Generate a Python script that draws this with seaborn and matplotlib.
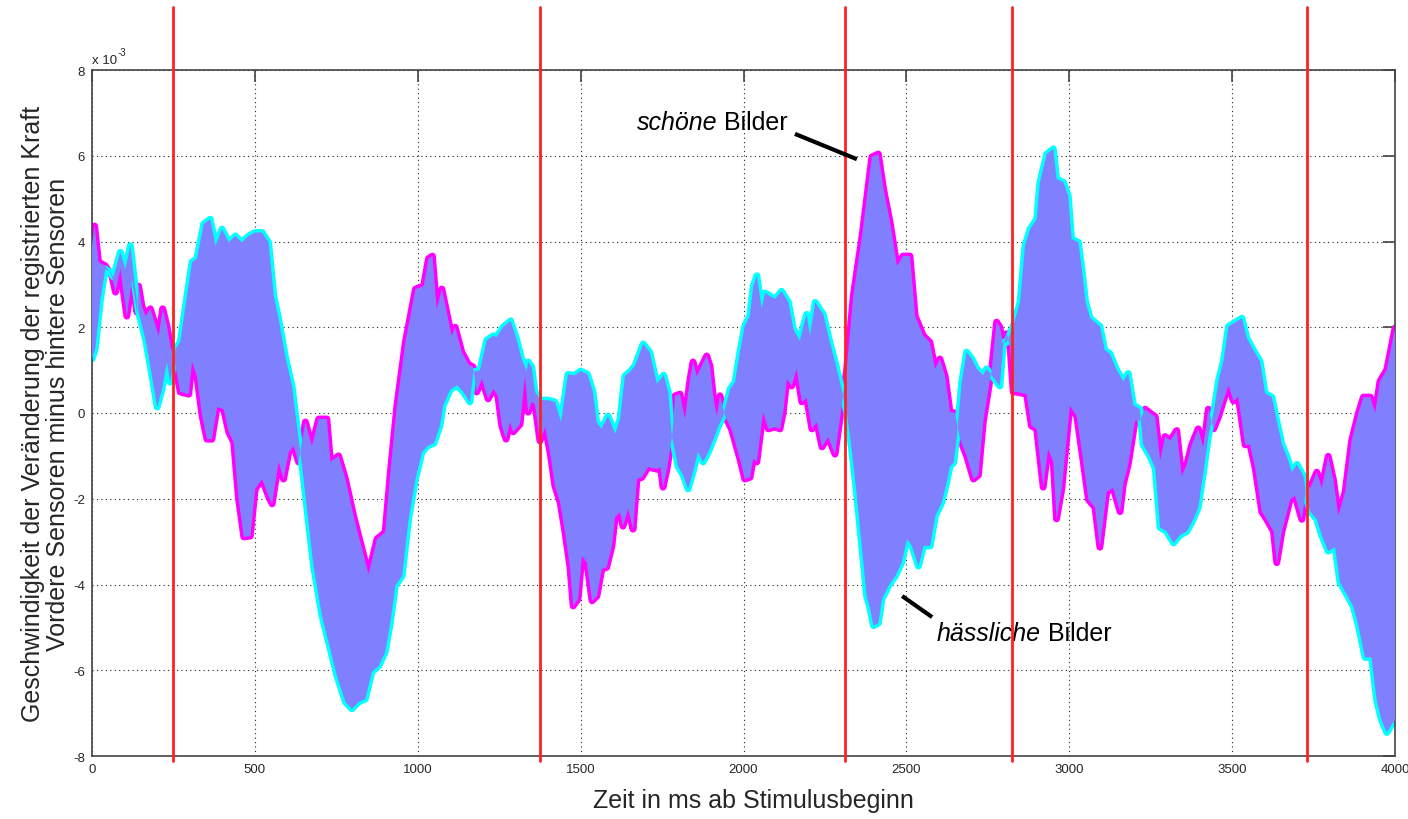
import matplotlib
matplotlib.use("Agg")
import matplotlib.pyplot as plt
import numpy as np
import seaborn as sns

sns.set_theme(style="white")
plt.rcParams["font.family"] = ["Liberation Sans", "DejaVu Sans"]
plt.rcParams["axes.unicode_minus"] = False

# Zeit (ms) und Wert (x 10^-3) für "schöne Bilder" (magenta)
zeit_schoen = [0, 8, 20, 41, 61, 72, 87, 107, 123, 138, 143, 153, 164, 179, 205, 217, 230, 246, 256, 271,
               297, 307, 322, 338, 353, 368, 384, 404, 420, 435, 450, 466, 486, 501, 522, 542, 553, 573, 588, 604,
               619, 634, 655, 675, 696, 721, 732, 757, 778, 803, 829, 849, 875, 900, 916, 936, 962, 993, 1018, 1033,
               1045, 1058, 1074, 1089, 1104, 1115, 1135, 1155, 1170, 1181, 1197, 1216, 1232, 1246, 1258, 1271, 1283, 1293, 1314, 1329,
               1339, 1350, 1360, 1375, 1391, 1406, 1421, 1437, 1452, 1467, 1477, 1492, 1504, 1519, 1535, 1550, 1565, 1580, 1596, 1606,
               1621, 1630, 1646, 1661, 1673, 1688, 1707, 1734, 1745, 1753, 1765, 1781, 1790, 1805, 1820, 1836, 1845, 1857, 1872, 1887,
               1897, 1907, 1918, 1928, 1943, 1963, 1989, 2004, 2020, 2030, 2041, 2060, 2076, 2097, 2112, 2122, 2133, 2148, 2163, 2179,
               2194, 2210, 2225, 2241, 2260, 2281, 2296, 2317, 2337, 2364, 2379, 2394, 2414, 2430, 2450, 2471, 2490, 2511, 2527, 2552,
               2572, 2588, 2603, 2619, 2634, 2649, 2665, 2685, 2706, 2721, 2736, 2752, 2762, 2777, 2787, 2798, 2808, 2818, 2828, 2838,
               2869, 2884, 2900, 2920, 2935, 2951, 2961, 2977, 3002, 3023, 3043, 3059, 3079, 3094, 3115, 3135, 3156, 3166, 3181, 3202,
               3217, 3233, 3248, 3264, 3279, 3294, 3310, 3330, 3345, 3361, 3376, 3396, 3412, 3427, 3443, 3458, 3473, 3489, 3504, 3519,
               3540, 3555, 3571, 3591, 3606, 3627, 3637, 3653, 3678, 3693, 3714, 3729, 3740, 3760, 3775, 3795, 3811, 3826, 3847, 3867,
               3888, 3903, 3924, 3939, 3954, 3975, 4000]
wert_schoen = [3.9, 4.36, 3.52, 3.43, 3.2, 2.82, 3.36, 2.26, 3.12, 2.35, 2.96, 2.5, 2.26, 2.43, 1.8, 2.43, 2.03, 1.33, 1.1, 0.49,
               0.44, 1.19, 0.86, -0.07, -0.61, -0.61, 0.14, 0.09, -0.45, -0.68, -2.0, -2.89, -2.87, -1.77, -1.54, -1.94, -2.12, -1.14, -1.54, -0.91,
               -0.77, -1.14, -0.21, -0.77, -0.14, -0.14, -1.14, -1.0, -1.54, -2.4, -3.17, -3.76, -2.94, -2.78, -1.38, 0.17, 1.65, 2.89, 2.96, 3.6,
               3.66, 2.43, 2.89, 2.35, 1.8, 2.0, 1.42, 1.14, 1.07, 0.49, 0.79, 0.33, 0.56, 0.4, -0.3, -0.61, -0.21, -0.44, -0.26, 0.86,
               0.02, 0.26, 0.2, -0.65, -0.33, -0.91, -1.7, -2.08, -2.78, -3.57, -4.5, -4.34, -3.34, -3.48, -4.38, -4.27, -3.64, -3.6, -3.1, -2.43,
               -2.31, -2.64, -2.24, -2.71, -1.54, -1.5, -1.26, -1.31, -1.26, -1.73, -1.31, -0.54, 0.4, 0.44, -0.14, 0.79, 1.19, 0.86, 1.1, 1.33,
               1.1, 0.4, -0.07, 0.4, -0.07, -0.37, -1.07, -1.54, -1.5, -1.07, -1.14, 0.02, -0.37, -0.33, -0.37, 0.02, 0.79, 0.63, 1.03, 0.26,
               0.35, -0.37, -0.21, -0.79, -0.56, -0.96, -0.14, 1.03, 2.73, 4.13, 5.06, 5.97, 6.04, 5.22, 4.45, 3.43, 3.66, 3.66, 2.26, 1.8,
               1.65, 1.03, 1.26, 0.86, 0.02, 0.0, -0.61, -1.0, -1.54, -1.45, -0.21, 0.56, 1.03, 2.12, 2.0, 1.56, 1.85, 1.56, 0.49, 0.49,
               0.44, -0.3, -0.37, -1.73, -0.84, -1.14, -2.47, -1.77, 0.17, -0.07, -1.14, -2.02, -2.2, -3.13, -1.84, -1.75, -2.3, -1.66, -1.2, -0.18,
               -0.18, 0.09, 0.0, -0.09, -1.1, -0.55, -0.64, -0.41, -1.47, -1.2, -0.74, -0.37, -0.83, 0.09, -0.37, -0.09, 0.28, 0.64, 0.28, 0.37,
               -0.74, -0.74, -1.29, -2.3, -2.48, -2.76, -3.49, -2.76, -2.02, -1.93, -2.48, -1.66, -1.75, -1.38, -1.75, -1.01, -1.56, -2.39, -1.84, -0.64,
               0.0, 0.37, 0.37, 0.0, 0.74, 1.01, 1.98]

# Zeit (ms) und Wert (x 10^-3) für "hässliche Bilder" (cyan)
zeit_haesslich = [0, 10, 26, 41, 56, 66, 87, 102, 118, 133, 143, 164, 179, 200, 215, 230, 240, 256, 271, 287,
                  307, 322, 343, 363, 379, 399, 420, 440, 460, 481, 501, 522, 542, 558, 573, 593, 614, 629, 645, 660,
                  680, 706, 726, 752, 778, 798, 818, 839, 859, 880, 900, 916, 931, 952, 972, 993, 1013, 1030, 1050, 1068,
                  1078, 1099, 1121, 1140, 1160, 1171, 1191, 1212, 1232, 1242, 1262, 1285, 1303, 1319, 1334, 1339, 1350, 1360, 1377, 1400,
                  1421, 1440, 1461, 1482, 1500, 1521, 1538, 1549, 1564, 1584, 1606, 1621, 1636, 1651, 1667, 1692, 1712, 1734, 1755, 1769,
                  1780, 1799, 1815, 1830, 1845, 1860, 1876, 1892, 1908, 1923, 1938, 1959, 1974, 1989, 2004, 2019, 2030, 2041, 2056, 2066,
                  2081, 2097, 2117, 2138, 2153, 2173, 2184, 2194, 2204, 2220, 2245, 2265, 2281, 2301, 2317, 2332, 2348, 2363, 2378, 2389,
                  2399, 2414, 2425, 2445, 2466, 2486, 2502, 2517, 2537, 2553, 2573, 2589, 2609, 2624, 2634, 2645, 2655, 2670, 2685, 2701,
                  2716, 2736, 2746, 2762, 2787, 2798, 2808, 2828, 2849, 2864, 2880, 2900, 2910, 2931, 2951, 2961, 2982, 2997, 3007, 3028,
                  3038, 3050, 3064, 3094, 3109, 3125, 3145, 3166, 3181, 3197, 3217, 3227, 3248, 3264, 3279, 3299, 3320, 3340, 3361, 3381,
                  3396, 3412, 3427, 3443, 3458, 3473, 3489, 3509, 3530, 3545, 3565, 3586, 3601, 3622, 3637, 3653, 3668, 3683, 3699, 3719,
                  3729, 3740, 3760, 3775, 3795, 3816, 3831, 3852, 3872, 3888, 3908, 3928, 3944, 3959, 3975, 3990, 4000]
wert_haesslich = [1.26, 1.5, 2.66, 3.36, 3.28, 3.17, 3.75, 3.36, 3.9, 2.89, 2.35, 1.73, 1.1, 0.14, 0.56, 1.19, 0.72, 1.49, 1.65, 2.5,
                  3.52, 3.6, 4.41, 4.52, 3.9, 4.29, 3.98, 4.13, 3.98, 4.13, 4.21, 4.21, 3.98, 2.73, 2.19, 1.33, 0.63, -0.3, -1.24, -2.24,
                  -3.57, -4.73, -5.34, -6.13, -6.74, -6.9, -6.74, -6.67, -6.04, -5.9, -5.58, -4.88, -4.03, -3.8, -2.47, -1.54, -0.91, -0.77, -0.7, -0.3,
                  0.17, 0.54, 0.65, 0.49, 0.26, 0.96, 1.0, 1.7, 1.8, 1.77, 2.0, 2.15, 1.73, 1.26, 0.98, 1.19, 1.07, 0.49, 0.3, 0.3,
                  0.26, -0.21, 0.9, 0.88, 0.98, 0.9, 0.49, -0.21, -0.37, -0.07, -0.49, -0.14, 0.86, 0.96, 1.1, 1.61, 1.42, 0.68, 0.88, 0.49,
                  -0.54, -1.24, -1.45, -1.77, -1.38, -0.91, -1.14, -0.91, -0.61, -0.3, -0.07, 0.56, 0.72, 1.42, 2.03, 2.26, 2.96, 3.2, 2.43, 2.8,
                  2.73, 2.66, 2.84, 2.58, 1.96, 1.68, 2.03, 2.3, 1.8, 2.58, 2.3, 1.65, 1.19, 0.56, 0.02, -0.84, -1.94, -3.1, -4.27, -4.57,
                  -4.96, -4.9, -4.34, -4.03, -3.8, -3.48, -2.94, -3.1, -3.57, -3.1, -3.1, -2.4, -2.08, -1.61, -1.24, -1.16, -0.54, 0.72, 1.42, 1.26,
                  1.03, 0.88, 1.03, 0.88, 0.63, 1.65, 1.65, 2.03, 2.58, 3.9, 4.29, 4.52, 5.38, 6.04, 6.16, 5.46, 5.38, 5.06, 4.06, 3.98,
                  3.4, 2.6, 2.21, 2.02, 1.47, 1.38, 1.01, 0.74, 0.92, 0.18, 0.09, -0.74, -1.01, -1.29, -2.67, -2.76, -3.03, -2.85, -2.76, -2.48,
                  -2.2, -1.38, -0.55, 0.0, 0.74, 1.2, 2.02, 2.11, 2.21, 1.75, 1.47, 1.2, 0.46, 0.37, -0.18, -0.74, -1.01, -1.38, -1.2, -1.47,
                  -2.02, -2.3, -2.48, -2.85, -3.22, -3.13, -3.95, -4.23, -4.51, -4.97, -5.7, -5.7, -6.71, -7.17, -7.45, -7.26, -7.17]

# Stimulus-Marker (ms)
marker_zeiten = [250, 1375, 2311, 2824, 3730]
x_ticks = list(range(0, 4001, 500))
y_ticks = list(range(-8, 9, 2))

fig = plt.figure(figsize=(14.08, 8.2), dpi=100)
ax = fig.add_axes([92 / 1408, 1 - 757 / 820, 1303 / 1408, 686 / 820])

sns.lineplot(x=zeit_schoen, y=wert_schoen, color="#ff00ff", linewidth=5, ax=ax, zorder=2)
sns.lineplot(x=zeit_haesslich, y=wert_haesslich, color="#00ffff", linewidth=5, ax=ax, zorder=2)

# Fläche zwischen den beiden Kurven
ax.fill(np.r_[zeit_schoen, zeit_haesslich[::-1]], np.r_[wert_schoen, wert_haesslich[::-1]],
        color="#8080ff", lw=0, zorder=3)

for t in marker_zeiten:
    ax.axvline(t, ymin=-0.007, ymax=749 / 686, color="#ff2020", lw=2, clip_on=False, zorder=4)

ax.set_xlim(0, 4000)
ax.set_ylim(-8, 8)
ax.set_xticks(x_ticks)
ax.set_yticks(y_ticks)
ax.grid(True, linestyle=(0, (1, 3)), color="#222222", lw=0.8)
ax.set_axisbelow(True)
for sp in ax.spines.values():
    sp.set_visible(True)
    sp.set_color("#444444")
    sp.set_linewidth(1.2)
ax.tick_params(direction="in", length=8.5, width=1.2, top=True, right=True, labelsize=9.5,
               color="#444444", pad=5)

# Exponent oben links (MATLAB-Stil)
exp_txt = ax.text(0, 1.006, "x 10", transform=ax.transAxes, fontsize=9.5, ha="left", va="bottom")
ax.annotate("-3", xy=(1, 0.75), xycoords=exp_txt, fontsize=7, ha="left", va="bottom")

ax.set_xlabel("Zeit in ms ab Stimulusbeginn", fontsize=18)
ax.xaxis.set_label_coords(0.508, -0.046)
ax.set_ylabel("Geschwindigkeit der Veränderung der registrierten Kraft\nVordere Sensoren minus hintere Sensoren",
              fontsize=18, linespacing=1.05)
ax.yaxis.set_label_coords(-0.017, 0.5)

# Beschriftungen
t1 = ax.text(1673, 6.62, "schöne", style="italic", fontsize=18, va="baseline", color="black")
ax.annotate(" Bilder", xy=(1, 0), xycoords=t1, va="bottom", ha="left", fontsize=18, color="black")
ax.plot([2158, 2348], [6.51, 5.92], color="black", lw=3, solid_capstyle="butt", zorder=5)

t2 = ax.text(2594, -5.29, "hässliche", style="italic", fontsize=18, va="baseline", color="black")
ax.annotate(" Bilder", xy=(1, 0), xycoords=t2, va="bottom", ha="left", fontsize=18, color="black")
ax.plot([2487, 2579], [-4.27, -4.76], color="black", lw=3, solid_capstyle="butt", zorder=5)

fig.savefig("out.png", dpi=100)
